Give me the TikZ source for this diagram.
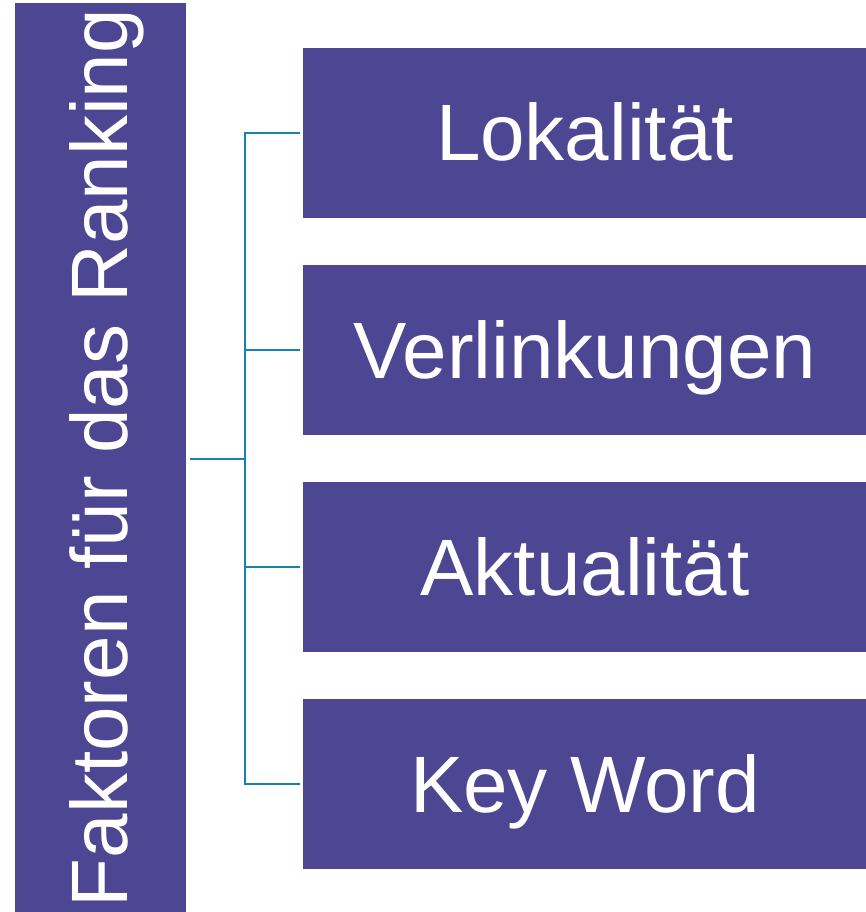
\documentclass[tikz,border=0pt]{standalone}
\usepackage{fontspec}
\setmainfont{Liberation Sans}
\definecolor{boxc}{RGB}{76,70,147}
\definecolor{linec}{RGB}{22,130,180}
\begin{document}
\begin{tikzpicture}[x=1pt,y=-1pt,
  boxstyle/.style={fill=boxc,draw=none},
  lbl/.style={text=white,font=\fontsize{80}{90}\selectfont,anchor=base,inner sep=0pt},
  conn/.style={draw=linec,line width=2.5pt}]
\useasboundingbox (0,0) rectangle (866,912);
\fill[boxc] (15,3) rectangle (186,912);
\node[lbl,rotate=90] (main) at (127,458) {Faktoren für das Ranking};
\foreach \n/\t/\y in {a/Lokalität/48,b/Verlinkungen/265,c/Aktualität/482,d/Key Word/699}{
  \fill[boxc] (303,\y) rectangle (866,\y+170);
  \node[lbl] (t\n) at (585,\y+113) {\t};
  \coordinate (e\n) at (300,\y+85);
}
\coordinate (m) at (190,459);
\coordinate (j) at (245,459);
\draw[conn] (m) -- (j);
\draw[conn] (ea) -| (245,0 |- ed) -- (ed);
\draw[conn] (eb) -- (eb -| j);
\draw[conn] (ec) -- (ec -| j);
\end{tikzpicture}
\end{document}
